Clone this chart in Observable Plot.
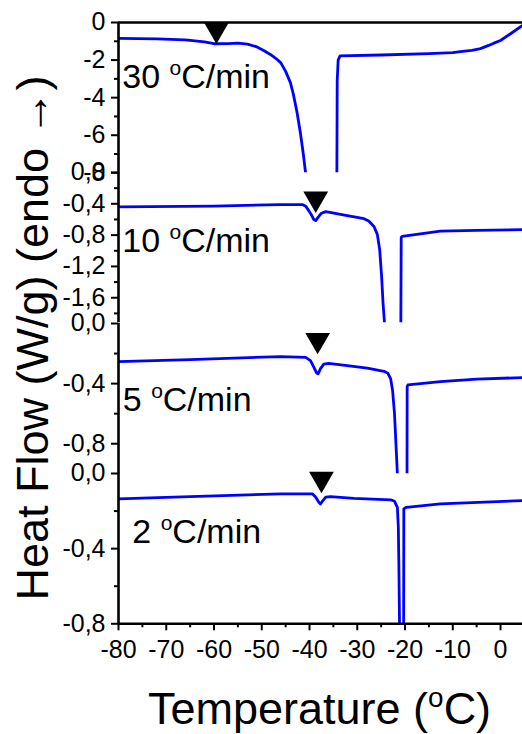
<!DOCTYPE html>
<html>
<head>
<meta charset="utf-8">
<script src="https://cdn.jsdelivr.net/npm/d3@7"></script>
<script src="https://cdn.jsdelivr.net/npm/@observablehq/plot@0.6"></script>
<style>
html, body { margin: 0; padding: 0; background: #fff; }
#chart { position: relative; width: 522px; height: 734px; overflow: hidden;
  font-family: 'Liberation Sans', Arial, sans-serif; color: #000; }
#chart svg { position: absolute; left: 0; overflow: visible; }
.title { position: absolute; white-space: nowrap; font-size: 45px; line-height: 45px; color: #000; }
.title .sup { font-size: 0.62em; vertical-align: 0.62em; line-height: 0; }
</style>
</head>
<body>
<div id="chart"></div>
<script>
// ---------- data ----------
const rateLabels = ["30 °C/min", "10 °C/min", "5 °C/min", "2 °C/min"];

const rate30T = [-80, -72, -66, -62, -60, -57, -55, -53, -51, -49.5, -48.2, -47, -46, -45, -44, -43.4, -42.6, -41.9, -41.3, -40.8, -40.2, -34.3, -34.2, -34.0, -33.6, -25, -15, -10, -8.4, -6, -4.2, -2.5, -1.4, 0, 2.1, 4.6];
const rate30H = [-0.85, -0.87, -0.93, -1.03, -1.13, -1.12, -1.10, -1.15, -1.30, -1.50, -1.70, -1.92, -2.15, -2.6, -3.2, -3.8, -4.8, -5.9, -7.0, -8.05, -10, -10, -3.1, -2.0, -1.78, -1.73, -1.66, -1.6, -1.55, -1.48, -1.39, -1.22, -1.10, -0.96, -0.6, -0.16];

const rate10T = [-80, -60, -46, -41.5, -40.8, -39.8, -39.1, -38.7, -38.3, -37.5, -36.6, -32.1, -28.6, -27.6, -26.5, -25.8, -25.3, -24.9, -24.6, -24.3, -24.1, -20.9, -20.8, -20.6, -12.6, -5, 4.6];
const rate10H = [-0.44, -0.43, -0.41, -0.41, -0.43, -0.52, -0.60, -0.615, -0.58, -0.52, -0.50, -0.55, -0.59, -0.62, -0.69, -0.79, -0.99, -1.33, -1.67, -1.92, -2.3, -2.3, -0.83, -0.815, -0.75, -0.74, -0.73];

const rate5T = [-80, -65, -46, -40.8, -39.8, -39.1, -38.5, -38.2, -37.7, -37.0, -36.0, -32.1, -27.9, -24.4, -23.6, -23.0, -22.6, -22.2, -21.9, -21.6, -21.5, -19.6, -19.55, -19.4, -12.6, -5, 4.6];
const rate5H = [-0.253, -0.24, -0.22, -0.225, -0.247, -0.29, -0.33, -0.335, -0.30, -0.27, -0.265, -0.28, -0.297, -0.318, -0.331, -0.369, -0.447, -0.602, -0.802, -1.0, -1.3, -1.3, -0.42, -0.409, -0.387, -0.37, -0.36];

const rate2T = [-80, -65, -46, -39.4, -38.7, -38.05, -37.7, -37.2, -36.6, -35.6, -30.7, -23.0, -22.2, -21.6, -21.4, -21.3, -21.15, -21.1, -20.3, -20.25, -19.7, -12.6, 4.6];
const rate2H = [-0.135, -0.123, -0.108, -0.108, -0.126, -0.153, -0.162, -0.144, -0.126, -0.123, -0.132, -0.14, -0.148, -0.18, -0.286, -0.464, -0.8, -1.0, -1.0, -0.188, -0.18, -0.162, -0.144];

// glass-transition markers (triangles) per panel
const tgT = [-59.5, -38.7, -38.3, -37.5];
const tgH = [-0.38, -0.335, -0.11, -0.029];

// rate label anchors per panel
const labelT = [-79.2, -79.2, -79.1, -77.1];
const labelH = [-2.885, -0.872, -0.507, -0.31];

// y domains and ticks per panel
const yDomains = [[-8, 0], [-1.92, 0], [-1.0, 0], [-0.8, 0]];
const yMajor = [[0, -2, -4, -6, -8], [0, -0.4, -0.8, -1.2, -1.6], [0, -0.4, -0.8], [0, -0.4, -0.8]];
const yMinor = [[-1, -3, -5, -7], [-0.2, -0.6, -1.0, -1.4, -1.8], [-0.2, -0.6], [-0.2, -0.6]];

const xDomain = [-80, 4.6];
const xMajor = [-80, -70, -60, -50, -40, -30, -20, -10, 0];
const xMinor = [-75, -65, -55, -45, -35, -25, -15, -5];

// ---------- layout ----------
const series = [[rate30T, rate30H], [rate10T, rate10H], [rate5T, rate5H], [rate2T, rate2H]];
const PANEL_H = 150.3;
const PANEL_TOP = 22;
const W = 522;

const fmtInt = d => (d === 0 ? "0" : String(d));
const fmtComma = d => (Math.abs(d) < 1e-9 ? "0,0" : d.toFixed(1).replace(".", ","));

const chart = document.getElementById("chart");

series.forEach(([T, H], i) => {
  const isLast = i === series.length - 1;
  const mt = 30, mb = isLast ? 70 : 30;
  const rows = T.map((t, k) => ({T: t, H: H[k]}));
  const fmt = i === 0 ? fmtInt : fmtComma;
  const marks = [
    Plot.axisY(yMajor[i], {tickSize: 7, tickPadding: 6, tickFormat: fmt, label: null, strokeWidth: 2, fontSize: 25}),
    Plot.axisY(yMinor[i], {tickSize: 4, tickFormat: () => "", label: null, strokeWidth: 2}),
    Plot.line(rows, {x: "T", y: "H", stroke: "#0000ff", strokeWidth: 2.8, clip: true, strokeLinejoin: "round"}),
    Plot.ruleX([xDomain[0]], {strokeWidth: 2.6, stroke: "black"}),
    Plot.dot([{T: tgT[i], H: tgH[i]}], {x: "T", y: "H", symbol: "triangle", rotate: 180, r: 9.2, fill: "black", stroke: "none"}),
    Plot.text([{T: labelT[i], H: labelH[i], s: rateLabels[i]}], {x: "T", y: "H", text: "s", textAnchor: "start", lineAnchor: "middle", fontSize: 34, fill: "black"})
  ];
  if (i === 0) marks.push(Plot.ruleY([yDomains[i][1]], {strokeWidth: 2.6, stroke: "black"}));
  if (isLast) {
    marks.push(Plot.ruleY([yDomains[i][0]], {strokeWidth: 2.6, stroke: "black"}));
    marks.push(Plot.axisX(xMajor, {tickSize: 7, tickPadding: 9, tickFormat: fmtInt, label: null, strokeWidth: 2, fontSize: 25}));
    marks.push(Plot.axisX(xMinor, {tickSize: 4, tickFormat: () => "", label: null, strokeWidth: 2}));
  }
  const svg = Plot.plot({
    width: W,
    height: PANEL_H + mt + mb,
    marginLeft: 118, marginRight: 0, marginTop: mt, marginBottom: mb,
    style: {background: "transparent", overflow: "visible", fontFamily: "'Liberation Sans', Arial, sans-serif", fontSize: "25px", color: "black"},
    x: isLast ? {domain: xDomain} : {domain: xDomain, axis: null},
    y: {domain: yDomains[i]},
    marks
  });
  svg.style.top = (PANEL_TOP + i * PANEL_H - mt) + "px";
  // superscript "o" in the rate labels
  svg.querySelectorAll("text").forEach(t => {
    const s = t.textContent;
    if (s.includes("°C/min")) {
      const [a, b] = s.split("°");
      t.textContent = "";
      const ns = "http://www.w3.org/2000/svg";
      const t1 = document.createElementNS(ns, "tspan"); t1.textContent = a;
      const t2 = document.createElementNS(ns, "tspan"); t2.textContent = "o";
      t2.setAttribute("font-size", "21"); t2.setAttribute("dy", "-13");
      const t3 = document.createElementNS(ns, "tspan"); t3.textContent = b;
      t3.setAttribute("dy", "13");
      t.append(t1, t2, t3);
    }
  });
  chart.appendChild(svg);
});

// axis titles
const xt = document.createElement("div");
xt.className = "title";
xt.innerHTML = 'Temperature (<span class="sup">o</span>C)';
xt.style.left = "148px";
xt.style.top = "686px";
chart.appendChild(xt);

const yt = document.createElement("div");
yt.className = "title";
yt.textContent = "Heat Flow (W/g) (endo \u2192)";
yt.style.left = "32px";
yt.style.top = "338px";
yt.style.transform = "translate(-50%, -50%) rotate(-90deg)";
chart.appendChild(yt);
</script>
</body>
</html>
